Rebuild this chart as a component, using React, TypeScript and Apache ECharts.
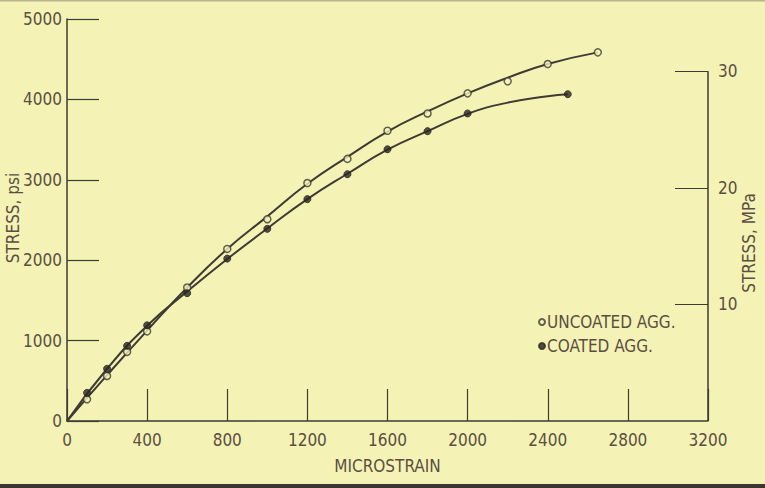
import React, { useEffect, useRef } from "react";
import * as echarts from "echarts";

// ---- Data ----
const xTicks = [0, 400, 800, 1200, 1600, 2000, 2400, 2800, 3200];
const psiTicks = [0, 1000, 2000, 3000, 4000, 5000];
const mpaTicks = [10, 20, 30];

// measured points
const uncoatedStrain = [100, 200, 300, 400, 600, 800, 1000, 1200, 1400, 1600, 1800, 2000, 2200, 2400, 2650];
const uncoatedStress = [270, 560, 860, 1115, 1660, 2140, 2510, 2960, 3260, 3610, 3825, 4075, 4225, 4440, 4585];
const coatedStrain = [100, 200, 300, 400, 600, 800, 1000, 1200, 1400, 1600, 1800, 2000, 2500];
const coatedStress = [350, 650, 935, 1190, 1590, 2020, 2390, 2760, 3070, 3380, 3605, 3825, 4065];

// fitted curves drawn through the points
const uncoatedCurveStrain = [0, 200, 400, 600, 800, 1000, 1200, 1400, 1600, 1800, 2000, 2200, 2400, 2650];
const uncoatedCurveStress = [0, 570, 1125, 1660, 2140, 2545, 2950, 3285, 3600, 3850, 4075, 4270, 4440, 4585];
const coatedCurveStrain = [0, 200, 400, 600, 800, 1000, 1200, 1400, 1600, 1800, 2000, 2200, 2400, 2500];
const coatedCurveStress = [0, 650, 1185, 1610, 2015, 2395, 2760, 3075, 3375, 3605, 3820, 3960, 4040, 4065];

const PSI_PER_MPA = 145.038;

const BG = "#f5f2b6";
const INK = "#3f3a33";
const TXT = "#5a4f42";
const FONT = "'Liberation Sans Narrow', 'DejaVu Sans Condensed', 'Liberation Sans', sans-serif";

const zip = (a: number[], b: number[]) => a.map((v, i) => [v, b[i]]);

export default function App() {
  const ref = useRef<HTMLDivElement>(null);
  useEffect(() => {
    if (!ref.current) return;
    const chart = echarts.init(ref.current, null, { renderer: "svg" });
    const xMin = xTicks[0];
    const xMax = xTicks[xTicks.length - 1];
    const yMax = psiTicks[psiTicks.length - 1];
    const mpaTop = mpaTicks[mpaTicks.length - 1];
    chart.setOption({
      animation: false,
      backgroundColor: BG,
      textStyle: { fontFamily: FONT },
      grid: { left: 67, right: 57, top: 19, bottom: 67, containLabel: false },
      xAxis: {
        type: "value",
        min: xMin,
        max: xMax,
        interval: 400,
        axisLine: { show: true, lineStyle: { color: INK, width: 1.5 } },
        axisTick: { show: true, inside: true, length: 32, lineStyle: { color: INK, width: 1.2 } },
        splitLine: { show: false },
        axisLabel: { margin: 10, fontSize: 17, color: TXT, fontFamily: FONT, formatter: (v: number) => String(v) },
        name: "MICROSTRAIN",
        nameLocation: "middle",
        nameGap: 36,
        nameTextStyle: { fontSize: 17, color: TXT, fontFamily: FONT },
      },
      yAxis: [
        {
          type: "value",
          min: 0,
          max: yMax,
          interval: 1000,
          position: "left",
          axisLine: { show: true, lineStyle: { color: INK, width: 1.5 } },
          axisTick: { show: true, inside: true, length: 32, lineStyle: { color: INK, width: 1.2 } },
          splitLine: { show: false },
          axisLabel: { margin: 5, fontSize: 17, color: TXT, fontFamily: FONT, formatter: (v: number) => String(v) },
        },
        {
          type: "value",
          min: 0,
          max: yMax / PSI_PER_MPA,
          interval: 10,
          position: "right",
          axisLine: { show: false },
          axisTick: {
            show: true,
            inside: true,
            length: 33,
            customValues: mpaTicks,
            lineStyle: { color: INK, width: 1.2 },
          },
          splitLine: { show: false },
          axisLabel: {
            margin: 10,
            fontSize: 17,
            color: TXT,
            fontFamily: FONT,
            customValues: mpaTicks,
            formatter: (v: number) => String(Math.round(v)),
          },
        },
      ],
      legend: {
        orient: "vertical",
        left: 538,
        top: 313,
        itemWidth: 6,
        itemHeight: 6,
        itemGap: 6,
        padding: 0,
        data: ["UNCOATED AGG.", "COATED AGG."],
        textStyle: { fontSize: 17, color: TXT, fontFamily: FONT, lineHeight: 18, padding: [0, 0, 0, -3] },
      },
      graphic: [
        {
          type: "text",
          x: 13,
          y: 218,
          rotation: Math.PI / 2,
          style: { text: "STRESS, psi", fontSize: 17, fill: TXT, fontFamily: FONT, align: "center", verticalAlign: "middle" },
        },
        {
          type: "text",
          x: 749,
          y: 243,
          rotation: Math.PI / 2,
          style: { text: "STRESS, MPa", fontSize: 17, fill: TXT, fontFamily: FONT, align: "center", verticalAlign: "middle" },
        },
        { type: "rect", shape: { x: 0, y: 484, width: 765, height: 4 }, style: { fill: "#3b3630" } },
        { type: "rect", shape: { x: 0, y: 0, width: 765, height: 1.5 }, style: { fill: "#b9b48c" } },
      ],
      series: [
        {
          name: "uncoated curve",
          type: "line",
          smooth: 0.5,
          showSymbol: false,
          silent: true,
          data: zip(uncoatedCurveStrain, uncoatedCurveStress),
          lineStyle: { color: INK, width: 2 },
          markLine: {
            silent: true,
            symbol: "none",
            label: { show: false },
            lineStyle: { color: INK, width: 1.5, type: "solid" },
            data: [[{ coord: [xMax, 0] }, { coord: [xMax, mpaTop * PSI_PER_MPA] }]],
          },
        },
        {
          name: "coated curve",
          type: "line",
          smooth: 0.5,
          showSymbol: false,
          silent: true,
          data: zip(coatedCurveStrain, coatedCurveStress),
          lineStyle: { color: INK, width: 2 },
        },
        {
          name: "UNCOATED AGG.",
          type: "scatter",
          symbol: "circle",
          symbolSize: 7,
          data: zip(uncoatedStrain, uncoatedStress),
          itemStyle: { color: BG, borderColor: INK, borderWidth: 1.5 },
          z: 5,
        },
        {
          name: "COATED AGG.",
          type: "scatter",
          symbol: "circle",
          symbolSize: 7,
          data: zip(coatedStrain, coatedStress),
          itemStyle: { color: "#2a2622", borderColor: "#2a2622", borderWidth: 1 },
          z: 5,
        },
      ],
    });
    return () => chart.dispose();
  }, []);
  return (
    <div
      ref={ref}
      style={{ position: "absolute", left: 0, top: 0, width: 765, height: 488 }}
    />
  );
}
